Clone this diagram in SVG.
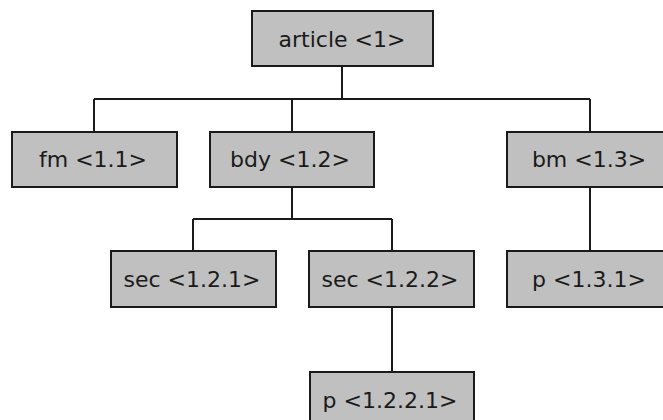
<svg xmlns="http://www.w3.org/2000/svg" width="663" height="420" viewBox="0 0 663 420">
  <style>
    .box { fill: #c0c0c0; stroke: #1a1a1a; stroke-width: 2; }
    .lbl { font-family: "DejaVu Sans", Verdana, sans-serif; font-size: 22px; fill: #1a1a1a; text-anchor: middle; }
    .edge { fill: none; stroke: #1a1a1a; stroke-width: 2; }
  </style>
  <rect width="663" height="420" fill="#ffffff"/>

  <!-- tree connectors -->
  <g id="connectors">
    <path class="edge" d="M342,66 V99 M94,99 H590 M94,99 V132 M292,99 V132 M590,99 V132"/>
    <path class="edge" d="M292,187 V219 M193,219 H392 M193,219 V251 M392,219 V251"/>
    <path class="edge" d="M590,187 V251"/>
    <path class="edge" d="M392,307 V372"/>
  </g>

  <g id="article">
    <rect class="box" x="252" y="11" width="181" height="55"/>
    <text class="lbl" x="342" y="47">article &lt;1&gt;</text>
  </g>
  <g id="fm">
    <rect class="box" x="12" y="132" width="165" height="55"/>
    <text class="lbl" x="93" y="167">fm &lt;1.1&gt;</text>
  </g>
  <g id="bdy">
    <rect class="box" x="210" y="132" width="164" height="55"/>
    <text class="lbl" x="290" y="167">bdy &lt;1.2&gt;</text>
  </g>
  <g id="bm">
    <rect class="box" x="507" y="132" width="165" height="55"/>
    <text class="lbl" x="589" y="167">bm &lt;1.3&gt;</text>
  </g>
  <g id="sec-1-2-1">
    <rect class="box" x="111" y="251" width="165" height="56"/>
    <text class="lbl" x="192" y="287">sec &lt;1.2.1&gt;</text>
  </g>
  <g id="sec-1-2-2">
    <rect class="box" x="309" y="251" width="165" height="56"/>
    <text class="lbl" x="390" y="287">sec &lt;1.2.2&gt;</text>
  </g>
  <g id="p-1-3-1">
    <rect class="box" x="507" y="251" width="165" height="56"/>
    <text class="lbl" x="589" y="287">p &lt;1.3.1&gt;</text>
  </g>
  <g id="p-1-2-2-1">
    <rect class="box" x="310" y="372" width="164" height="56"/>
    <text class="lbl" x="390" y="408">p &lt;1.2.2.1&gt;</text>
  </g>
</svg>
